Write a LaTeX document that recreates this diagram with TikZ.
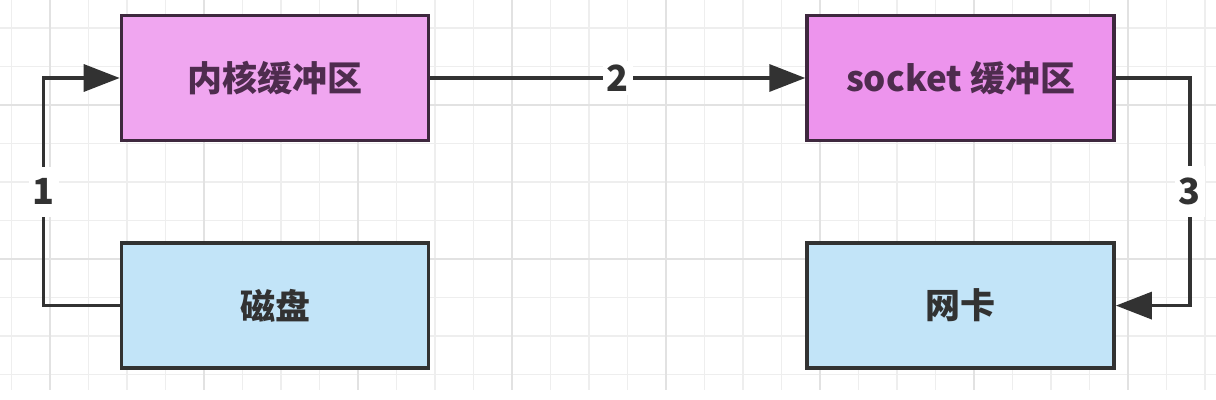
\documentclass[tikz,border=0pt]{standalone}
\usepackage{fontspec}
\setmainfont{Noto Sans CJK SC}
\usetikzlibrary{positioning,arrows.meta}
\definecolor{kpink}{RGB}{240,166,240}
\definecolor{spink}{RGB}{237,148,237}
\definecolor{devblue}{RGB}{194,228,248}
\definecolor{edgegray}{RGB}{50,50,50}
\definecolor{plumedge}{RGB}{62,40,62}
\definecolor{plumtext}{RGB}{78,44,78}
\definecolor{gridminor}{RGB}{238,238,238}
\definecolor{gridmajor}{RGB}{226,226,226}

\begin{document}
\begin{tikzpicture}[x=0.5pt, y=-0.5pt,
  buf/.style={draw=plumedge, line width=1.8pt, minimum width=153.5pt, minimum height=62.5pt, font=\fontsize{17.5}{20}\selectfont\bfseries, text=plumtext},
  dev/.style={draw=edgegray, fill=devblue, line width=1.8pt, minimum width=153.5pt, minimum height=62.5pt, font=\fontsize{17.5}{20}\selectfont\bfseries, text=edgegray},
  num/.style={fill=white, inner xsep=2pt, inner ysep=2pt, font=\fontsize{18}{20}\selectfont\bfseries, text=edgegray},
  arr/.style={-{Triangle[length=18pt, width=13.5pt]}, line width=1.7pt, edgegray}
]
% canvas and grid
\fill[white] (0,0) rectangle (1216,400);
\useasboundingbox (0,0) rectangle (1216,400);
\foreach \gx in {0,...,31}
  \draw[gridminor, line width=0.8pt] (11.5+38.5*\gx,0) -- (11.5+38.5*\gx,390);
\foreach \gy in {0,...,9}
  \draw[gridminor, line width=0.8pt] (0,28+38.5*\gy) -- (1216,28+38.5*\gy);
\foreach \gx in {0,...,7}
  \draw[gridmajor, line width=0.9pt] (50+154*\gx,0) -- (50+154*\gx,390);
\foreach \gy in {0,...,2}
  \draw[gridmajor, line width=0.9pt] (0,105+154*\gy) -- (1216,105+154*\gy);

% buffers and devices
\node[buf, fill=kpink] (kbuf) at (275,78) {内核缓冲区};
\node[buf, fill=spink, right=187.5pt of kbuf] (sbuf) {socket 缓冲区};
\node[dev, below=49.5pt of kbuf] (disk) {磁盘};
\node[dev, below=49.5pt of sbuf] (nic) {网卡};

% copy steps
\draw[arr] (disk.west) -- ++(-38pt,0) |- node[num, pos=0.25, inner ysep=6pt] {1} (kbuf.west);
\draw[arr] (kbuf.east) -- node[num] {2} (sbuf.west);
\draw[arr] (sbuf.east) -- ++(37pt,0) |- node[num, pos=0.25, inner ysep=6pt] {3} (nic.east);
\end{tikzpicture}
\end{document}
